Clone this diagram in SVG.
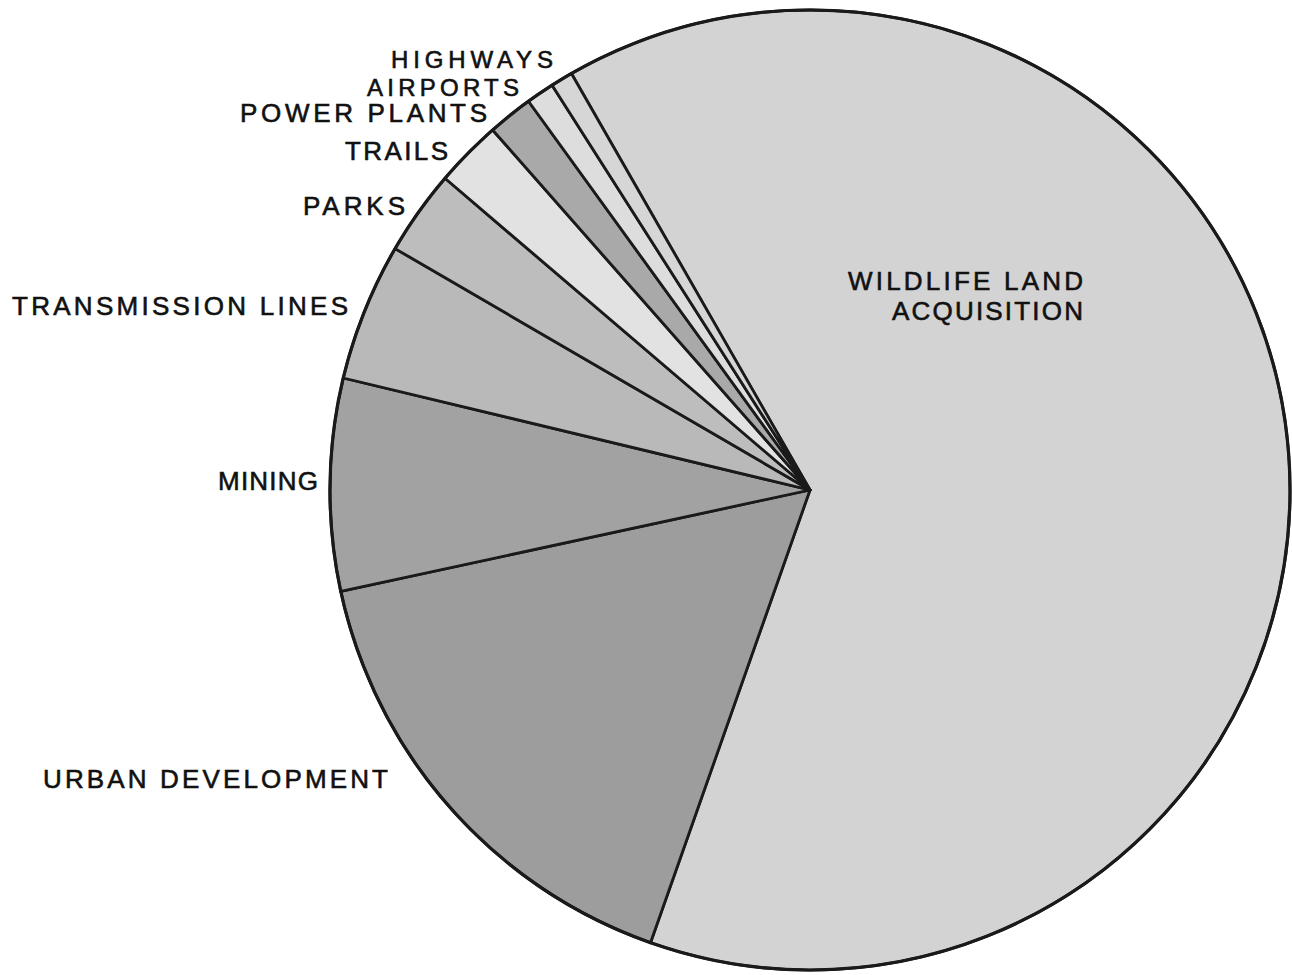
<svg xmlns="http://www.w3.org/2000/svg" width="1292" height="975" viewBox="0 0 1292 975">
<style>
.s{stroke:#1a1a1a;stroke-width:2.8;stroke-linejoin:round}
.t{font-family:"Liberation Sans",Arial,sans-serif;font-size:26px;fill:#111;stroke:#111;stroke-width:0.6}
.sm{font-size:24px}
</style>
<rect width="1292" height="975" fill="#ffffff"/>
<g id="slices">
<g id="wildlife"><path class="s" fill="#d3d3d3" d="M810 490 L571.4 73.5 A480 480 0 1 1 650.5 942.7 Z"/></g>
<g id="urban"><path class="s" fill="#9d9d9d" d="M810 490 L650.5 942.7 A480 480 0 0 1 340.8 591.4 Z"/></g>
<g id="mining"><path class="s" fill="#a2a2a2" d="M810 490 L340.8 591.4 A480 480 0 0 1 343.3 378 Z"/></g>
<g id="transmission"><path class="s" fill="#b9b9b9" d="M810 490 L343.3 378 A480 480 0 0 1 395.1 248.6 Z"/></g>
<g id="parks"><path class="s" fill="#bdbdbd" d="M810 490 L395.1 248.6 A480 480 0 0 1 445 178.3 Z"/></g>
<g id="trails"><path class="s" fill="#e2e2e2" d="M810 490 L445 178.3 A480 480 0 0 1 492.6 130 Z"/></g>
<g id="powerplants"><path class="s" fill="#a9a9a9" d="M810 490 L492.6 130 A480 480 0 0 1 528.5 101.2 Z"/></g>
<g id="airports"><path class="s" fill="#dddddd" d="M810 490 L528.5 101.2 A480 480 0 0 1 552.1 85.2 Z"/></g>
<g id="highways"><path class="s" fill="#d6d6d6" d="M810 490 L552.1 85.2 A480 480 0 0 1 571.4 73.5 Z"/></g>
<circle cx="810" cy="490" r="480" fill="none" stroke="#1a1a1a" stroke-width="3.2"/>
</g>
<g id="labels">
<text class="t sm" x="391" y="68" textLength="162" lengthAdjust="spacing">HIGHWAYS</text>
<text class="t sm" x="367" y="96" textLength="152" lengthAdjust="spacing">AIRPORTS</text>
<text class="t" x="240" y="122" textLength="247" lengthAdjust="spacing">POWER PLANTS</text>
<text class="t" x="345" y="160" textLength="103" lengthAdjust="spacing">TRAILS</text>
<text class="t" x="303" y="215" textLength="102" lengthAdjust="spacing">PARKS</text>
<text class="t" x="12" y="315" textLength="336" lengthAdjust="spacing">TRANSMISSION LINES</text>
<text class="t" x="218" y="490" textLength="100" lengthAdjust="spacing">MINING</text>
<text class="t" x="43" y="788" textLength="345" lengthAdjust="spacing">URBAN DEVELOPMENT</text>
<text class="t" x="848" y="290" textLength="235" lengthAdjust="spacing">WILDLIFE LAND</text>
<text class="t" x="892" y="320" textLength="191" lengthAdjust="spacing">ACQUISITION</text>
</g>
</svg>
